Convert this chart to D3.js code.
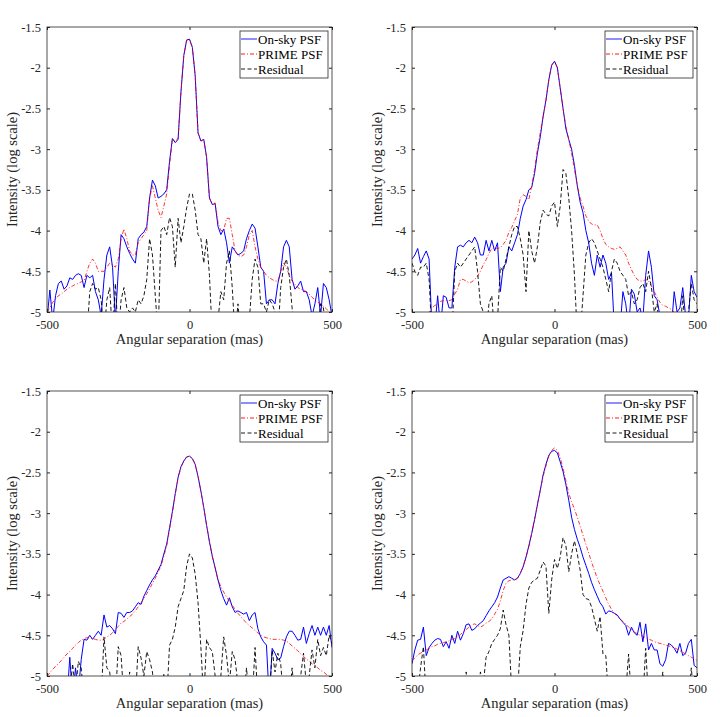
<!DOCTYPE html>
<html>
<head>
<meta charset="utf-8">
<script src="https://cdn.jsdelivr.net/npm/d3@7"></script>
<style>
	body { margin: 0; background: white; }
	text { font-family: "Liberation Serif", "Times New Roman", "DejaVu Serif", serif; }
</style>
</head>
<body>
<script>
// sample positions (mas) and axis ticks
var angles = d3.range(-500, 501, 10)
var xTicks = [-500, 0, 500]
var yTicks = [-5, -4.5, -4, -3.5, -3, -2.5, -2, -1.5]
var legendLabels = ["On-sky PSF", "PRIME PSF", "Residual"]
var xTitle = "Angular separation (mas)"
var yTitle = "Intensity (log scale)"
var serif = "'Liberation Serif', 'Times New Roman', 'DejaVu Serif', serif"

var onSky1 = [-5.1, -4.73, -5.1, -4.8, -4.65, -4.62, -4.72, -4.68, -4.58, -4.6,
	-4.55, -4.53, -4.55, -4.7, -4.55, -4.58, -4.55, -4.75, -4.85, -5.05,
	-4.6, -4.3, -4.2, -4.45, -5.1, -4.5, -4.05, -4.1, -4.2, -4.28,
	-4.35, -4.4, -4.1, -4.05, -4.02, -3.95, -3.6, -3.38, -3.45, -3.6,
	-3.58, -3.55, -3.5, -3.15, -2.87, -2.92, -2.88, -2.3, -1.85, -1.66,
	-1.65, -1.75, -2.1, -2.8, -2.9, -2.88, -3.1, -3.6, -3.68, -3.67,
	-3.95, -4.05, -3.98, -4.15, -4.4, -4.2, -4.25, -4.3, -4.28, -4.25,
	-4.1, -4.0, -3.92, -3.97, -4.2, -4.45, -4.5, -4.9, -4.85, -4.85,
	-4.9, -4.65, -4.5, -4.2, -4.12, -4.2, -4.6, -4.72, -4.68, -4.62,
	-4.75, -4.75, -4.85, -5.05, -4.9, -4.7, -5.05, -4.65, -4.7, -4.85, -5.05]
var prime1 = [-5.0, -4.95, -4.88, -4.84, -4.8, -4.78, -4.75, -4.72, -4.7, -4.68,
	-4.66, -4.65, -4.63, -4.62, -4.5, -4.4, -4.35, -4.4, -4.5, -4.5,
	-4.5, -4.45, -4.4, -4.42, -4.45, -4.35, -4.1, -3.98, -4.1, -4.25,
	-4.3, -4.3, -4.15, -4.1, -4.05, -4.0, -3.6, -3.45, -3.6, -3.75,
	-3.84, -3.7, -3.55, -3.2, -2.88, -2.9, -2.87, -2.3, -1.85, -1.66,
	-1.65, -1.75, -2.1, -2.8, -2.9, -2.88, -3.1, -3.6, -3.68, -3.66,
	-3.9, -4.0, -4.0, -3.85, -3.85, -4.05, -4.25, -4.3, -4.32, -4.3,
	-4.2, -4.05, -4.0, -4.2, -4.35, -4.45, -4.5, -4.55, -4.58, -4.6,
	-4.62, -4.62, -4.5, -4.4, -4.45, -4.55, -4.62, -4.66, -4.7, -4.72,
	-4.73, -4.75, -4.78, -4.82, -4.85, -4.88, -4.9, -4.93, -4.96, -5.0, -5.02]
var resid1 = [-5.3, -5.3, -5.3, -5.3, -5.3, -5.3, -5.3, -5.3, -5.3, -5.3,
	-5.3, -5.3, -5.3, -5.3, -5.3, -4.75, -4.65, -4.72, -4.7, -4.85,
	-5.3, -4.85, -4.7, -5.3, -4.65, -5.3, -4.85, -4.7, -4.95, -5.0,
	-4.95, -5.0, -4.85, -4.9, -4.8, -4.6, -4.1, -4.3, -4.8, -5.3,
	-4.0, -3.95, -4.05, -3.84, -3.95, -4.45, -3.85, -4.15, -3.95, -3.72,
	-3.55, -3.55, -3.75, -4.05, -4.1, -4.4, -4.1, -4.55, -5.3, -5.3,
	-5.1, -4.75, -4.85, -4.4, -4.25, -4.7, -5.3, -4.9, -5.3, -5.3,
	-5.0, -5.1, -4.6, -4.35, -4.45, -4.9, -4.9, -5.0, -4.85, -4.9,
	-5.0, -5.3, -4.7, -4.45, -4.35, -4.55, -4.95, -5.3, -5.3, -5.3,
	-5.3, -5.3, -5.3, -5.3, -5.3, -5.3, -4.9, -4.95, -5.3, -5.3, -5.3]

var onSky2 = [-4.35, -4.3, -4.22, -4.4, -4.32, -4.25, -4.35, -5.2, -5.2, -4.8,
	-5.2, -4.8, -4.82, -4.95, -4.95, -4.45, -4.2, -4.18, -4.2, -4.15,
	-4.12, -4.15, -4.08, -4.15, -4.3, -4.3, -4.12, -4.25, -4.12, -4.25,
	-4.15, -4.75, -4.45, -4.4, -4.2, -4.25, -4.15, -4.05, -3.85, -3.7,
	-3.62, -3.5, -3.47, -3.3, -3.05, -2.85, -2.6, -2.4, -2.15, -1.97,
	-1.92, -2.0, -2.25, -2.5, -2.75, -2.88, -3.0, -3.2, -3.45, -3.65,
	-3.78, -4.0, -4.15, -4.4, -4.55, -4.3, -4.45, -4.3, -4.4, -4.6,
	-4.52, -5.2, -5.2, -5.2, -4.75, -4.9, -5.2, -4.72, -4.78, -5.0,
	-4.95, -5.1, -4.55, -4.25, -4.45, -4.8, -4.85, -5.05, -5.2, -5.2,
	-5.2, -5.2, -4.75, -5.0, -4.95, -4.7, -5.05, -5.1, -4.55, -4.75, -4.82]
var prime2 = [-5.3, -5.25, -5.2, -5.15, -5.1, -5.05, -5.0, -4.95, -4.92, -4.9,
	-4.87, -4.86, -4.86, -4.86, -4.85, -4.78, -4.72, -4.6, -4.6, -4.62,
	-4.64, -4.63, -4.6, -4.56, -4.5, -4.42, -4.36, -4.28, -4.22, -4.21,
	-4.22, -4.21, -4.17, -4.12, -4.02, -3.96, -3.88, -3.8, -3.6, -3.56,
	-3.58, -3.62, -3.45, -3.25, -3.0, -2.8, -2.6, -2.4, -2.15, -1.97,
	-1.92, -2.0, -2.25, -2.5, -2.72, -2.88, -3.05, -3.25, -3.45, -3.6,
	-3.7, -3.82, -3.88, -3.92, -3.93, -3.93, -4.0, -4.1, -4.17, -4.2,
	-4.22, -4.23, -4.22, -4.2, -4.25, -4.3, -4.4, -4.48, -4.55, -4.6,
	-4.62, -4.62, -4.6, -4.62, -4.68, -4.75, -4.82, -4.88, -4.92, -4.93,
	-4.95, -4.97, -5.0, -5.05, -5.08, -5.1, -5.15, -5.2, -5.25, -5.3, -5.3]
var resid2 = [-4.4, -4.5, -4.55, -4.45, -4.45, -4.4, -4.6, -5.3, -5.0, -5.3,
	-5.3, -5.3, -5.3, -5.3, -5.3, -4.5, -4.4, -4.45, -4.4, -4.35,
	-4.3, -4.25, -4.2, -4.5, -4.9, -5.0, -5.3, -4.9, -4.8, -5.3,
	-5.1, -4.45, -4.5, -4.35, -4.2, -4.05, -3.95, -3.95, -4.1, -4.3,
	-4.75, -4.0, -4.25, -4.4, -4.2, -3.9, -3.75, -3.8, -3.82, -3.7,
	-3.65, -3.95, -3.7, -3.25, -3.3, -3.6, -4.0, -4.55, -5.3, -5.3,
	-4.8, -4.3, -4.15, -4.1, -4.15, -4.25, -4.35, -4.45, -4.6, -4.75,
	-4.5, -4.35, -4.4, -4.5, -4.55, -4.6, -4.8, -4.75, -4.9, -4.85,
	-4.7, -4.65, -4.75, -4.5, -4.7, -5.0, -4.9, -5.3, -5.3, -5.3,
	-5.3, -5.3, -5.3, -5.3, -5.3, -4.8, -5.3, -5.0, -4.65, -4.85, -4.9]

var onSky3 = [-5.3, -5.3, -5.3, -5.3, -5.3, -5.3, -5.3, -5.3, -4.77, -5.3,
	-4.9, -5.2, -4.8, -4.55, -4.56, -4.5, -4.55, -4.5, -4.45, -4.5,
	-4.25, -4.4, -4.38, -4.42, -4.48, -4.22, -4.23, -4.28, -4.22, -4.22,
	-4.2, -4.15, -4.1, -4.12, -4.02, -3.95, -3.88, -3.82, -3.77, -3.7,
	-3.63, -3.5, -3.38, -3.18, -2.98, -2.76, -2.56, -2.43, -2.36, -2.31,
	-2.3, -2.33, -2.4, -2.55, -2.73, -2.93, -3.15, -3.35, -3.53, -3.67,
	-3.82, -3.95, -4.05, -4.13, -4.04, -4.15, -4.22, -4.2, -4.22, -4.24,
	-4.22, -4.32, -4.25, -4.22, -4.42, -4.52, -4.58, -4.62, -5.3, -4.66,
	-4.72, -4.8, -4.78, -4.64, -4.52, -4.45, -4.45, -4.5, -4.56, -4.55,
	-4.4, -4.6, -4.48, -4.38, -4.5, -4.4, -4.5, -4.4, -4.5, -4.38, -4.65]
var prime3 = [-5.0, -4.96, -4.92, -4.88, -4.85, -4.81, -4.77, -4.73, -4.7, -4.66,
	-4.62, -4.59, -4.56, -4.54, -4.53, -4.53, -4.54, -4.55, -4.56, -4.56,
	-4.55, -4.52, -4.5, -4.47, -4.43, -4.39, -4.35, -4.33, -4.3, -4.27,
	-4.24, -4.2, -4.15, -4.1, -4.05, -3.99, -3.93, -3.86, -3.8, -3.72,
	-3.65, -3.53, -3.4, -3.2, -3.0, -2.77, -2.57, -2.44, -2.36, -2.31,
	-2.3, -2.33, -2.4, -2.55, -2.73, -2.93, -3.15, -3.35, -3.53, -3.68,
	-3.82, -3.9, -3.97, -4.03, -4.08, -4.13, -4.18, -4.23, -4.27, -4.31,
	-4.35, -4.38, -4.41, -4.44, -4.47, -4.5, -4.52, -4.53, -4.54, -4.55,
	-4.55, -4.55, -4.55, -4.56, -4.57, -4.6, -4.63, -4.66, -4.69, -4.73,
	-4.76, -4.79, -4.82, -4.85, -4.87, -4.9, -4.93, -4.95, -4.98, -5.0, -5.03]
var resid3 = [-5.3, -5.3, -5.3, -5.3, -5.3, -5.3, -5.3, -5.3, -5.2, -4.85,
	-5.2, -4.82, -4.9, -5.3, -5.3, -5.3, -5.3, -5.3, -5.3, -5.3,
	-4.52, -4.9, -4.95, -5.3, -5.3, -4.64, -4.75, -5.3, -5.3, -4.95,
	-5.3, -5.3, -4.64, -4.78, -5.0, -4.7, -4.8, -4.95, -5.3, -5.3,
	-5.3, -4.98, -5.3, -4.62, -4.55, -4.4, -4.15, -4.05, -3.95, -3.65,
	-3.5, -3.55, -3.75, -4.1, -4.65, -5.3, -4.55, -4.65, -4.7, -5.0,
	-5.3, -5.0, -4.52, -4.75, -5.1, -4.7, -4.8, -5.1, -5.3, -5.3,
	-4.9, -5.3, -5.3, -4.65, -5.3, -5.3, -5.3, -5.3, -5.3, -4.68,
	-4.95, -4.72, -4.85, -5.3, -5.3, -5.3, -4.9, -5.3, -5.3, -5.0,
	-4.72, -5.1, -5.0, -4.68, -4.9, -4.55, -4.75, -4.65, -4.75, -4.5, -4.6]

var onSky4 = [-4.85, -4.68, -4.56, -4.55, -4.4, -4.75, -4.65, -4.6, -4.56, -4.54,
	-4.55, -4.64, -4.58, -4.66, -4.5, -4.6, -4.45, -4.56, -4.48, -4.37,
	-4.36, -4.44, -4.42, -4.38, -4.35, -4.32, -4.26, -4.2, -4.15, -4.1,
	-4.03, -3.92, -3.82, -3.8, -3.78, -3.8, -3.82, -3.8, -3.74, -3.66,
	-3.54, -3.4, -3.25, -3.08, -2.9, -2.72, -2.53, -2.4, -2.29, -2.24,
	-2.23, -2.26, -2.37, -2.49, -2.65, -2.84, -3.05, -3.2, -3.32, -3.42,
	-3.54, -3.64, -3.74, -3.85, -3.94, -4.02, -4.1, -4.15, -4.24, -4.2,
	-4.21, -4.23, -4.25, -4.3, -4.34, -4.38, -4.5, -4.4, -4.47, -4.5,
	-4.34, -4.58, -4.36, -4.68, -4.6, -4.68, -4.68, -4.85, -4.88, -4.8,
	-4.6, -4.62, -4.66, -4.72, -4.6, -4.75, -4.72, -4.6, -4.55, -4.87, -4.9]
var prime4 = [-4.81, -4.78, -4.74, -4.72, -4.7, -4.68, -4.66, -4.64, -4.63, -4.61,
	-4.6, -4.59, -4.58, -4.57, -4.55, -4.54, -4.52, -4.49, -4.46, -4.43,
	-4.4, -4.37, -4.36, -4.38, -4.4, -4.38, -4.35, -4.33, -4.3, -4.24,
	-4.18, -4.08, -3.95, -3.86, -3.83, -3.82, -3.82, -3.8, -3.74, -3.65,
	-3.54, -3.42, -3.25, -3.08, -2.89, -2.72, -2.55, -2.42, -2.3, -2.23,
	-2.2, -2.23, -2.32, -2.45, -2.6, -2.76, -2.86, -2.95, -3.05, -3.16,
	-3.27, -3.38, -3.49, -3.6, -3.7, -3.8, -3.88, -3.96, -4.04, -4.12,
	-4.18, -4.23, -4.26, -4.3, -4.33, -4.36, -4.4, -4.43, -4.46, -4.48,
	-4.5, -4.51, -4.53, -4.55, -4.56, -4.58, -4.59, -4.6, -4.61, -4.62,
	-4.63, -4.64, -4.65, -4.67, -4.69, -4.71, -4.73, -4.75, -4.77, -4.79, -4.81]
var resid4 = [-5.3, -5.3, -5.2, -4.9, -4.64, -5.3, -5.3, -5.3, -5.3, -5.3,
	-5.3, -5.3, -5.3, -5.3, -5.3, -5.3, -5.3, -5.3, -5.3, -4.95,
	-5.3, -5.3, -5.3, -5.3, -4.95, -5.1, -4.77, -4.7, -4.6, -4.55,
	-4.5, -4.42, -4.19, -4.37, -4.5, -5.2, -5.4, -5.2, -4.64, -4.44,
	-4.12, -3.92, -3.85, -3.82, -3.8, -3.7, -3.6, -3.65, -4.23, -3.82,
	-3.57, -3.68, -3.54, -3.3, -3.4, -3.72, -3.5, -3.34, -3.5, -3.7,
	-4.0, -4.05, -4.06, -4.15, -4.3, -4.45, -4.27, -4.73, -4.75, -5.3,
	-5.3, -5.3, -5.3, -5.3, -5.3, -5.2, -4.73, -5.3, -5.3, -5.3,
	-5.3, -5.3, -4.66, -5.3, -5.3, -5.3, -5.3, -5.3, -4.95, -5.3,
	-5.3, -5.3, -5.3, -5.3, -5.3, -5.3, -5.3, -5.3, -4.9, -5.3, -5.3]

var w = 720
var h = 717
var plotW = 285
var plotH = 285
var axisColor = "#262626"

var svg = d3.select("body")
	.append("svg")
	.attr("width", w)
	.attr("height", h)

plotPanel(0, 47, 27, onSky1, prime1, resid1)
plotPanel(1, 412, 27, onSky2, prime2, resid2)
plotPanel(2, 47, 391, onSky3, prime3, resid3)
plotPanel(3, 412, 391, onSky4, prime4, resid4)

function plotPanel(n, px, py, onSky, prime, resid) {
	var xScale = d3.scaleLinear()
		.domain([-500, 500])
		.range([px, px + plotW])

	var yScale = d3.scaleLinear()
		.domain([-5, -1.5])
		.range([py + plotH, py])

	var fmt = (d) => String(d)

	svg.append("clipPath")
		.attr("id", "clip" + n)
		.append("rect")
		.attr("x", px)
		.attr("y", py)
		.attr("width", plotW)
		.attr("height", plotH)

	var line = d3.line()
		.x((d, i) => xScale(angles[i]))
		.y((d) => yScale(d))

	var g = svg.append("g").attr("clip-path", "url(#clip" + n + ")")

	g.append("path")
		.datum(onSky)
		.attr("d", line)
		.attr("fill", "none")
		.attr("stroke", "#0000ff")
		.attr("stroke-width", 1)

	g.append("path")
		.datum(prime)
		.attr("d", line)
		.attr("fill", "none")
		.attr("stroke", "#ff0000")
		.attr("stroke-width", 0.8)
		.attr("stroke-dasharray", "4,2,1,2")

	g.append("path")
		.datum(resid)
		.attr("d", line)
		.attr("fill", "none")
		.attr("stroke", "#000000")
		.attr("stroke-width", 0.9)
		.attr("stroke-dasharray", "4,2.5")

	// axes, ticks pointing inward on all four sides
	var axes = [
		[d3.axisBottom(xScale).tickValues(xTicks).tickFormat(fmt).tickPadding(8), "translate(0," + (py + plotH) + ")"],
		[d3.axisTop(xScale).tickValues(xTicks).tickFormat(""), "translate(0," + py + ")"],
		[d3.axisLeft(yScale).tickValues(yTicks).tickFormat(fmt).tickPadding(6), "translate(" + px + ",0)"],
		[d3.axisRight(yScale).tickValues(yTicks).tickFormat(""), "translate(" + (px + plotW) + ",0)"]
	]
	axes.forEach((a) => {
		var ax = svg.append("g")
			.attr("transform", a[1])
			.call(a[0].tickSize(-3))
		ax.select(".domain").remove()
		ax.selectAll("line").attr("stroke", axisColor)
		ax.selectAll("text")
			.attr("fill", axisColor)
			.style("font-family", serif)
			.style("font-size", "12.5px")
	})

	svg.append("rect")
		.attr("x", px)
		.attr("y", py)
		.attr("width", plotW)
		.attr("height", plotH)
		.attr("fill", "none")
		.attr("stroke", axisColor)
		.attr("stroke-width", 0.8)

	svg.append("text")
		.attr("x", px + plotW / 2)
		.attr("y", py + plotH + 32)
		.style("text-anchor", "middle")
		.style("font-family", serif)
		.style("font-size", "14.5px")
		.attr("fill", axisColor)
		.text(xTitle)

	svg.append("text")
		.attr("transform", "translate(" + (px - 30) + "," + (py + plotH / 2) + ") rotate(-90)")
		.style("text-anchor", "middle")
		.style("font-family", serif)
		.style("font-size", "14.5px")
		.attr("fill", axisColor)
		.text(yTitle)

	// Legend
	var lx = px + plotW - 92
	var ly = py + 4
	var styles = [
		["#0000ff", null],
		["#ff0000", "4,2,1,2"],
		["#000000", "4,2.5"]
	]
	svg.append("rect")
		.attr("x", lx)
		.attr("y", ly)
		.attr("width", 88)
		.attr("height", 47)
		.attr("fill", "white")
		.attr("stroke", axisColor)
		.attr("stroke-width", 0.8)

	legendLabels.forEach((label, i) => {
		var yy = ly + 8 + i * 15
		svg.append("line")
			.attr("x1", lx + 1)
			.attr("x2", lx + 17)
			.attr("y1", yy)
			.attr("y2", yy)
			.attr("stroke", styles[i][0])
			.attr("stroke-width", 0.9)
			.attr("stroke-dasharray", styles[i][1])
		svg.append("text")
			.attr("x", lx + 18)
			.attr("y", yy)
			.attr("dy", "0.35em")
			.style("font-family", serif)
			.style("font-size", "13px")
			.attr("fill", "black")
			.text(label)
	})
}
</script>
</body>
</html>
